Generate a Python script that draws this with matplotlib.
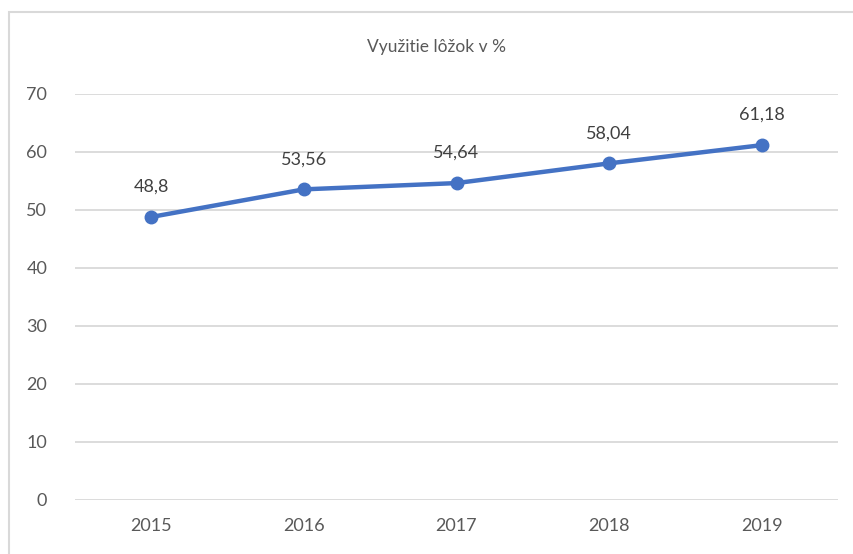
import matplotlib.pyplot as plt
from matplotlib.patches import Rectangle

years = ['2015', '2016', '2017', '2018', '2019']
values = [48.8, 53.56, 54.64, 58.04, 61.18]
labels = ['48,8', '53,56', '54,64', '58,04', '61,18']

plt.rcParams['font.family'] = ['Lato', 'DejaVu Sans']

fig = plt.figure(figsize=(8.54, 5.54), dpi=100)
ax = fig.add_axes([75 / 854, 54 / 554, 763 / 854, 406 / 554])

x = list(range(len(years)))
ax.plot(x, values, color='#4472C4', linewidth=3.2, marker='o', markersize=9,
        solid_capstyle='round', zorder=3)
for xi, v, lab in zip(x, values, labels):
    ax.annotate(lab, (xi, v), xytext=(0, 16), textcoords='offset points',
                ha='center', va='bottom', fontsize=13, color='#404040')

ax.set_xlim(-0.5, 4.5)
ax.set_ylim(0, 70)
ax.set_yticks(range(0, 71, 10))
ax.set_xticks(x)
ax.set_xticklabels(years)
ax.yaxis.grid(True, color='#D9D9D9', linewidth=1.3)
ax.set_axisbelow(True)
for s in ax.spines.values():
    s.set_visible(False)
ax.tick_params(length=0, labelsize=13, colors='#595959')
ax.tick_params(axis='y', pad=20)
ax.tick_params(axis='x', pad=13)

fig.text(437 / 854, 1 - 47 / 554, 'Využitie lôžok v %', ha='center', va='center',
         fontsize=12.5, color='#595959')

fig.patches.append(Rectangle((8.5 / 854, -0.1), 1.2, 1 - 11.5 / 554 + 0.1,
                             transform=fig.transFigure, fill=False,
                             edgecolor='#D9D9D9', linewidth=1.5))

fig.savefig('out.png', dpi=100)
